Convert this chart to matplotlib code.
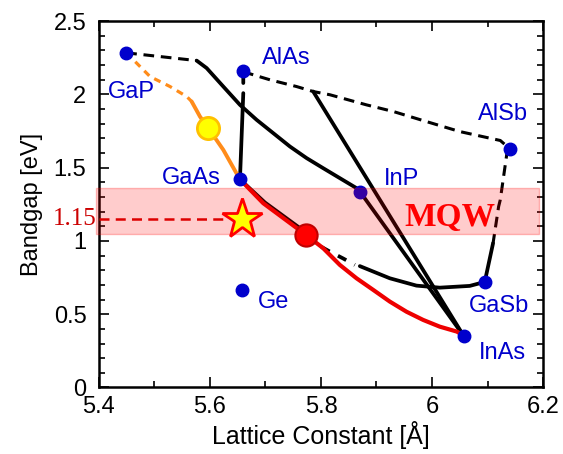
import matplotlib.pyplot as plt
import numpy as np
from matplotlib.ticker import MultipleLocator

plt.rcParams.update({
    'font.family': ['Liberation Sans', 'DejaVu Sans'],
})

# binary compounds: lattice constant [Å], bandgap [eV]
names = ['GaP', 'AlAs', 'GaAs', 'InP', 'AlSb', 'GaSb', 'InAs', 'Ge']
lattice = [5.449, 5.660, 5.654, 5.870, 6.141, 6.095, 6.057, 5.657]
bandgap = [2.283, 2.160, 1.420, 1.337, 1.626, 0.720, 0.352, 0.666]

# ternary curves (x = lattice, y = gap)
gainp_dash_x = [5.449, 5.576]
gainp_dash_y = [2.283, 2.230]
gainp_x = [5.576, 5.594, 5.624, 5.654, 5.684, 5.714, 5.744, 5.774, 5.804, 5.834, 5.864, 5.870]
gainp_y = [2.230, 2.179, 2.053, 1.928, 1.826, 1.735, 1.644, 1.565, 1.496, 1.428, 1.360, 1.337]

gaasp_dash_x = [5.449, 5.456, 5.492, 5.528, 5.558, 5.567]
gaasp_dash_y = [2.283, 2.258, 2.121, 2.053, 1.985, 1.951]
gaasp_x = [5.567, 5.582, 5.597, 5.624, 5.651, 5.654]
gaasp_y = [1.951, 1.848, 1.769, 1.621, 1.439, 1.420]

alassb_x = [5.660, 5.672, 5.708, 5.756, 5.786, 5.816, 5.882, 5.930, 5.990, 6.050, 6.123, 6.141]
alassb_y = [2.160, 2.140, 2.099, 2.053, 2.019, 1.997, 1.928, 1.883, 1.814, 1.746, 1.685, 1.626]

alinas_x = [5.786, 6.057]
alinas_y = [2.019, 0.352]

inasp_x = [5.870, 6.057]
inasp_y = [1.337, 0.352]

algaas_x = [5.660, 5.660, np.nan, 5.660, 5.654]
algaas_y = [2.160, 2.077, np.nan, 2.008, 1.420]

algasb_dash_x = [6.141, 6.135, 6.123, 6.120, 6.110]
algasb_dash_y = [1.626, 1.599, 1.280, 1.234, 0.984]
algasb_x = [6.110, 6.095]
algasb_y = [0.984, 0.720]

gaassb_x = [5.654, 5.699, 5.777]
gaassb_y = [1.420, 1.262, 1.046]
gaassb_dash_x = [5.777, 5.789, 5.816, 5.840, 5.861]
gaassb_dash_y = [1.046, 0.984, 0.927, 0.880, 0.836]
gaassb_end_x = [5.870, 5.924, 5.972, 6.014, 6.068, 6.095]
gaassb_end_y = [0.828, 0.745, 0.695, 0.681, 0.693, 0.720]

gainas_x = [5.654, 5.696, 5.773, 5.804, 5.834, 5.864, 5.894, 5.924, 5.954, 5.984, 6.014, 6.045, 6.057]
gainas_y = [1.420, 1.257, 1.041, 0.950, 0.836, 0.745, 0.666, 0.586, 0.517, 0.461, 0.415, 0.381, 0.352]

# highlighted compositions
yellow_pt = (5.597, 1.769)
red_pt = (5.773, 1.041)
target_gap = 1.15
star_pt = (5.657, target_gap)
mqw_band = (1.05, 1.36)

# label offsets in points (layout only)
label_offset = {
    'GaP': (4, -28), 'AlAs': (31, 9), 'AlSb': (-5, 25), 'GaAs': (-35, 1),
    'InP': (30, 9), 'Ge': (23, -9), 'GaSb': (10, -17), 'InAs': (28, -12),
}

fig = plt.figure(figsize=(5.63, 4.54), dpi=100)
ax = fig.add_axes([0.1758, 0.1465, 0.7887, 0.8072])

blk = dict(color='black', lw=2.7, solid_capstyle='round', solid_joinstyle='round', zorder=2)
blk_dash = dict(color='black', lw=2.2, dashes=(3.5, 2.2), zorder=2)

ax.plot(gainp_dash_x, gainp_dash_y, **blk_dash)
ax.plot(gainp_x, gainp_y, **blk)
ax.plot(alassb_x, alassb_y, **blk_dash)
ax.plot(alinas_x, alinas_y, **blk)
ax.plot(inasp_x, inasp_y, **blk)
ax.plot(algaas_x, algaas_y, **blk)
ax.plot(algasb_dash_x, algasb_dash_y, **blk_dash)
ax.plot(algasb_x, algasb_y, **blk)
ax.plot(gaassb_x, gaassb_y, **blk)
ax.plot(gaassb_dash_x, gaassb_dash_y, color='black', lw=2.7, dashes=(2.5, 2.5), zorder=2)
ax.plot(gaassb_end_x, gaassb_end_y, **blk)

ax.plot(gaasp_dash_x, gaasp_dash_y, color='#ff8c1a', lw=2.3, dashes=(2.2, 1.8), zorder=2.5)
ax.plot(gaasp_x, gaasp_y, color='#ff8c1a', lw=2.8, solid_capstyle='round', zorder=2.5)
ax.plot(gainas_x, gainas_y, color='#ee0000', lw=3.0, solid_capstyle='round',
        solid_joinstyle='round', zorder=2.5)

ax.plot(lattice, bandgap, 'o', ms=9, color='#0000cc', zorder=3)

# MQW window
ax.fill_between([5.395, 6.193], mqw_band[0], mqw_band[1], facecolor=(1, 0, 0, 0.2),
                edgecolor=(1, 0, 0, 0.25), lw=1, zorder=4, clip_on=False)
ax.text(6.032, 1.16, 'MQW', color='red', fontsize=24, fontweight='bold',
        family='Liberation Serif', ha='center', va='center', zorder=6)

ax.plot([5.4, 5.63], [target_gap, target_gap], color='#dd0000', lw=1.8,
        dashes=(4, 2.5), zorder=5)
ax.text(5.395, target_gap, '1.15', color='#cc0000', fontsize=18, family='Liberation Serif',
        ha='right', va='center', zorder=6, clip_on=False)

ax.plot(*yellow_pt, 'o', ms=16, mfc='#ffff00', mec='#ffc000', mew=2, zorder=5)
ax.plot(*red_pt, 'o', ms=16, mfc='#ff0000', mec='#c00000', mew=1.5, zorder=5)
ax.plot(*star_pt, '*', ms=30, mfc='#ffff00', mec='#ff0000', mew=2, zorder=5)

for n, x, y in zip(names, lattice, bandgap):
    ax.annotate(n, (x, y), xytext=label_offset[n], textcoords='offset points',
                ha='center', va='center', color='#0000cc', fontsize=17, zorder=6)

ax.set_xlim(5.4, 6.2)
ax.set_ylim(0, 2.5)
ax.xaxis.set_major_locator(MultipleLocator(0.2))
ax.xaxis.set_minor_locator(MultipleLocator(0.1))
ax.yaxis.set_major_locator(MultipleLocator(0.5))
ax.yaxis.set_minor_locator(MultipleLocator(0.1))
ax.set_xticks([5.4, 5.6, 5.8, 6.0, 6.2], ['5.4', '5.6', '5.8', '6', '6.2'])
ax.set_yticks([0, 0.5, 1, 1.5, 2, 2.5], ['0', '0.5', '1', '1.5', '2', '2.5'])
ax.tick_params(which='both', direction='in', top=True, right=True, labelsize=17, width=1.2)
ax.tick_params(which='major', length=7)
ax.tick_params(axis='x', which='major', pad=6)
ax.tick_params(axis='y', which='major', pad=9)
ax.tick_params(which='minor', length=4)
for s in ax.spines.values():
    s.set_linewidth(1.8)

ax.set_xlabel('Lattice Constant [Å]', fontsize=18, labelpad=2)
ax.set_ylabel('Bandgap [eV]', fontsize=17, labelpad=8)

fig.savefig('out.png', dpi=100)
